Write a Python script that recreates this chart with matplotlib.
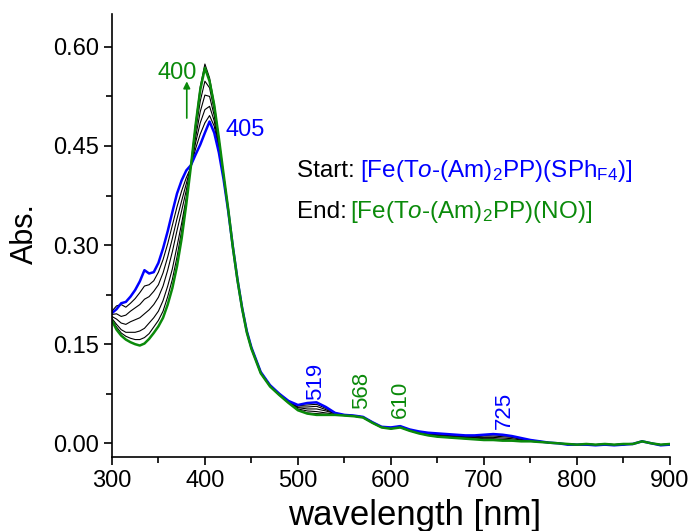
import matplotlib
matplotlib.use("Agg")
import matplotlib.pyplot as plt
from matplotlib.ticker import MultipleLocator

plt.rcParams['font.family'] = ['Liberation Sans', 'DejaVu Sans']
plt.rcParams['mathtext.fontset'] = 'custom'
plt.rcParams['mathtext.rm'] = 'Liberation Sans'
plt.rcParams['mathtext.it'] = 'Liberation Sans:italic'

BLUE = '#0000ff'
GREEN = '#0a8a0a'

# wavelength grid [nm]: 5 nm steps over the Soret band, 10 nm after
wl = list(range(300, 450, 5)) + list(range(450, 901, 10))

# start spectrum [Fe(To-(Am)2PP)(SPhF4)]
start_abs = [
    .197, .203, .212, .214, .222, .232, .245, .262, .257, .259,
    .273, .295, .321, .350, .378, .398, .413, .421, .437, .452,
    .470, .487, .470, .440, .400, .352, .298, .248, .205, .170,
    .145, .108, .088, .075, .064, .058, .061, .062, .055, .046,
    .043, .042, .040, .032, .025, .024, .026, .021, .018, .016,
    .015, .014, .013, .012, .012, .013, .014, .013, .011, .008,
    .005, .003, .001, .000, -.002, -.002, -.002, -.003, -.002, -.003,
    -.002, -.001, .003, .000, -.003, -.002]

# end spectrum [Fe(To-(Am)2PP)(NO)]
end_abs = [
    .186, .172, .163, .157, .153, .150, .148, .151, .158, .167,
    .177, .190, .210, .235, .268, .310, .362, .420, .482, .535,
    .568, .548, .512, .462, .408, .355, .297, .247, .204, .168,
    .143, .106, .086, .073, .061, .050, .045, .043, .043, .043,
    .042, .041, .039, .031, .024, .022, .024, .019, .015, .012,
    .010, .009, .008, .007, .006, .005, .005, .004, .004, .003,
    .003, .002, .001, .000, -.001, -.002, -.001, -.002, -.001, -.002,
    -.001, -.001, .003, .000, -.002, -.001]

# intermediate spectra during the titration
mid1_abs = [
    .200, .208, .210, .206, .212, .219, .228, .238, .240, .246,
    .259, .278, .302, .330, .358, .382, .402, .418, .446, .468,
    .485, .496, .480, .446, .402, .353, .298, .248, .205, .170,
    .145, .108, .088, .075, .064, .057, .058, .059, .053, .046,
    .043, .042, .040, .032, .025, .024, .026, .021, .017, .015,
    .014, .013, .012, .011, .011, .012, .013, .012, .010, .007,
    .005, .003, .001, .000, -.002, -.002, -.002, -.003, -.002, -.003,
    -.002, -.001, .003, .000, -.003, -.002]

mid2_abs = [
    .195, .196, .192, .194, .200, .205, .210, .218, .222, .230,
    .240, .258, .282, .310, .340, .367, .393, .420, .455, .485,
    .505, .510, .488, .450, .404, .354, .298, .248, .205, .170,
    .145, .108, .088, .075, .063, .055, .055, .056, .051, .045,
    .043, .042, .040, .032, .025, .023, .025, .020, .017, .014,
    .013, .012, .011, .010, .010, .011, .011, .010, .009, .006,
    .004, .003, .001, .000, -.002, -.002, -.002, -.002, -.002, -.002,
    -.002, -.001, .003, .000, -.003, -.002]

mid3_abs = [
    .192, .188, .182, .180, .184, .187, .190, .196, .202, .210,
    .221, .238, .262, .290, .322, .352, .383, .420, .463, .502,
    .527, .525, .496, .454, .405, .354, .298, .248, .205, .169,
    .144, .107, .087, .074, .062, .054, .052, .052, .049, .045,
    .043, .042, .040, .032, .025, .023, .025, .020, .016, .013,
    .012, .011, .010, .009, .009, .009, .009, .008, .007, .005,
    .004, .002, .001, .000, -.001, -.002, -.002, -.002, -.002, -.002,
    -.002, -.001, .003, .000, -.002, -.002]

mid4_abs = [
    .189, .180, .172, .168, .168, .168, .170, .174, .182, .190,
    .200, .216, .238, .264, .298, .333, .372, .420, .472, .518,
    .548, .538, .504, .458, .406, .354, .297, .247, .204, .169,
    .144, .107, .087, .074, .062, .052, .049, .048, .046, .044,
    .043, .041, .039, .031, .024, .023, .024, .019, .016, .013,
    .011, .010, .009, .008, .008, .007, .007, .006, .005, .004,
    .003, .002, .001, .000, -.001, -.002, -.001, -.002, -.001, -.002,
    -.001, -.001, .003, .000, -.002, -.001]

mid5_abs = [
    .187, .176, .167, .162, .159, .157, .157, .160, .166, .176,
    .186, .200, .222, .248, .282, .322, .368, .423, .484, .540,
    .574, .553, .514, .462, .408, .355, .297, .247, .204, .168,
    .143, .106, .086, .073, .061, .051, .046, .045, .044, .043,
    .042, .041, .039, .031, .024, .022, .024, .019, .015, .012,
    .010, .009, .008, .007, .006, .006, .006, .005, .004, .003,
    .003, .002, .001, .000, -.001, -.002, -.001, -.002, -.001, -.002,
    -.001, -.001, .003, .000, -.002, -.001]

fig = plt.figure(figsize=(6.95, 5.31), dpi=100)
ax = fig.add_axes([0.161, 0.139, 0.803, 0.835])

for mid in (mid1_abs, mid2_abs, mid3_abs, mid4_abs, mid5_abs):
    ax.plot(wl, mid, color='black', lw=0.8)
ax.plot(wl, start_abs, color=BLUE, lw=1.8)
ax.plot(wl, end_abs, color=GREEN, lw=1.8)

ax.set_xlim(300, 900)
ax.set_ylim(-0.021, 0.65)
ax.xaxis.set_major_locator(MultipleLocator(100))
ax.xaxis.set_minor_locator(MultipleLocator(50))
ax.yaxis.set_major_locator(MultipleLocator(0.15))
ax.yaxis.set_minor_locator(MultipleLocator(0.075))
ax.yaxis.set_major_formatter(plt.FormatStrFormatter('%.2f'))
ax.tick_params(which='major', direction='out', length=6, width=1.2, labelsize=17)
ax.tick_params(which='minor', direction='out', length=4, width=1.2)
ax.spines['top'].set_visible(False)
ax.spines['right'].set_visible(False)
ax.spines['left'].set_linewidth(1.2)
ax.spines['bottom'].set_linewidth(1.2)

ax.set_xlabel('wavelength [nm]', fontsize=25)
ax.xaxis.set_label_coords(0.542, -0.095)
ax.set_ylabel('Abs.', fontsize=22)
ax.yaxis.set_label_coords(-0.129, 0.505)

# peak labels
ax.text(370, 0.561, '400', color=GREEN, fontsize=17, ha='center', va='center')
ax.annotate('', xy=(380.5, 0.552), xytext=(380.5, 0.488),
            arrowprops=dict(arrowstyle='-|>', color=GREEN, lw=1.2,
                            mutation_scale=10))
ax.text(443, 0.474, '405', color=BLUE, fontsize=17, ha='center', va='center')
ax.text(519, 0.094, '519', color=BLUE, fontsize=16, rotation=90,
        ha='center', va='center')
ax.text(568, 0.080, '568', color=GREEN, fontsize=16, rotation=90,
        ha='center', va='center')
ax.text(610, 0.067, '610', color=GREEN, fontsize=16, rotation=90,
        ha='center', va='center')
ax.text(722, 0.050, '725', color=BLUE, fontsize=16, rotation=90,
        ha='center', va='center')

# start / end species
ax.text(499, 0.412, 'Start: ', color='black', fontsize=17.5, va='center')
ax.text(567, 0.412, r'[Fe(T$\it{o}$-(Am)$_2$PP)(SPh$_{\mathrm{F4}}$)]',
        color=BLUE, fontsize=17.5, va='center')
ax.text(499, 0.350, 'End: ', color='black', fontsize=17.5, va='center')
ax.text(556, 0.350, r'[Fe(T$\it{o}$-(Am)$_2$PP)(NO)]',
        color=GREEN, fontsize=17.5, va='center')

fig.savefig('out.png', dpi=100)
